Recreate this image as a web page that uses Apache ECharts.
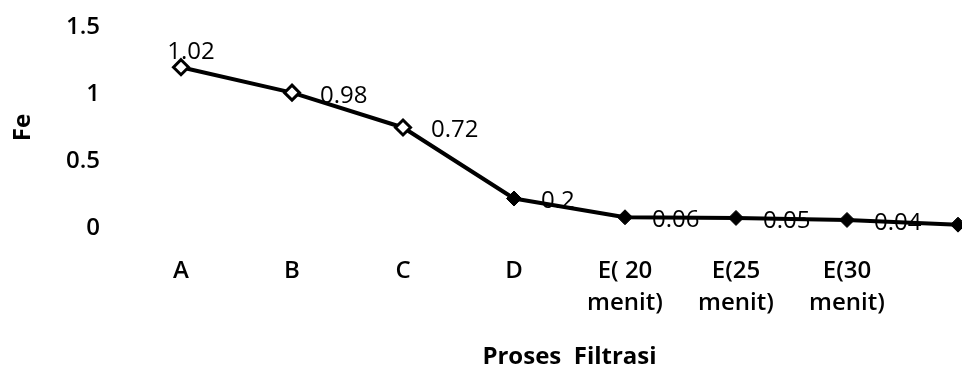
<!DOCTYPE html>
<html><head><meta charset="utf-8">
<script src="https://cdn.jsdelivr.net/npm/echarts@6/dist/echarts.min.js"></script>
<style>html,body{margin:0;padding:0;background:#fff}#c{width:962px;height:377px}</style>
</head><body><div id="c"></div>
<script>
var categories = ['A', 'B', 'C', 'D', 'E( 20\nmenit)', 'E(25\nmenit)', 'E(30\nmenit)', ''];
var feValues = [1.2, 1.01, 0.75, 0.22, 0.08, 0.075, 0.06, 0.025];
var feLabels = ['1.02', '0.98', '0.72', '0.2', '0.06', '0.05', '0.04', ''];
var yTicks = [0, 0.5, 1, 1.5];

var chart = echarts.init(document.getElementById('c'));
var font = '"Open Sans", "DejaVu Sans", sans-serif';
var data = feValues.map(function (v, i) {
  var d = { value: v };
  if (i < 3) d.itemStyle = { color: '#fff', borderColor: '#000', borderWidth: 3 };
  if (i === 0) d.label = { position: 'top', offset: [10, 25] };
  return d;
});
chart.setOption({
  animation: false,
  grid: { left: 181, right: 4, top: 27, bottom: 149 },
  xAxis: {
    type: 'category', data: categories, boundaryGap: false,
    axisLine: { show: false }, axisTick: { show: false },
    axisLabel: { color: '#000', fontFamily: font, fontSize: 24, fontWeight: 600, lineHeight: 32, margin: 27, interval: 0 },
    name: 'Proses  Filtrasi', nameLocation: 'middle', nameGap: 117,
    nameTextStyle: { color: '#000', fontFamily: font, fontSize: 24, fontWeight: 'bold' }
  },
  yAxis: {
    type: 'value', min: yTicks[0], max: yTicks[yTicks.length - 1], interval: 0.5,
    axisLine: { show: false }, axisTick: { show: false }, splitLine: { show: false },
    axisLabel: { color: '#000', fontFamily: font, fontSize: 24, fontWeight: 600, margin: 81 },
    name: 'Fe', nameLocation: 'middle', nameGap: 146, nameRotate: 90,
    nameTextStyle: { color: '#000', fontFamily: font, fontSize: 24, fontWeight: 'bold' }
  },
  series: [{
    type: 'line', data: data,
    symbol: 'diamond', symbolSize: 15,
    lineStyle: { color: '#000', width: 4 },
    itemStyle: { color: '#000', borderColor: '#000', borderWidth: 1 },
    label: {
      show: true, position: 'right', distance: 19, offset: [0, 3],
      color: '#000', fontFamily: font, fontSize: 24,
      formatter: function (p) { return feLabels[p.dataIndex]; }
    }
  }]
});
</script></body></html>
